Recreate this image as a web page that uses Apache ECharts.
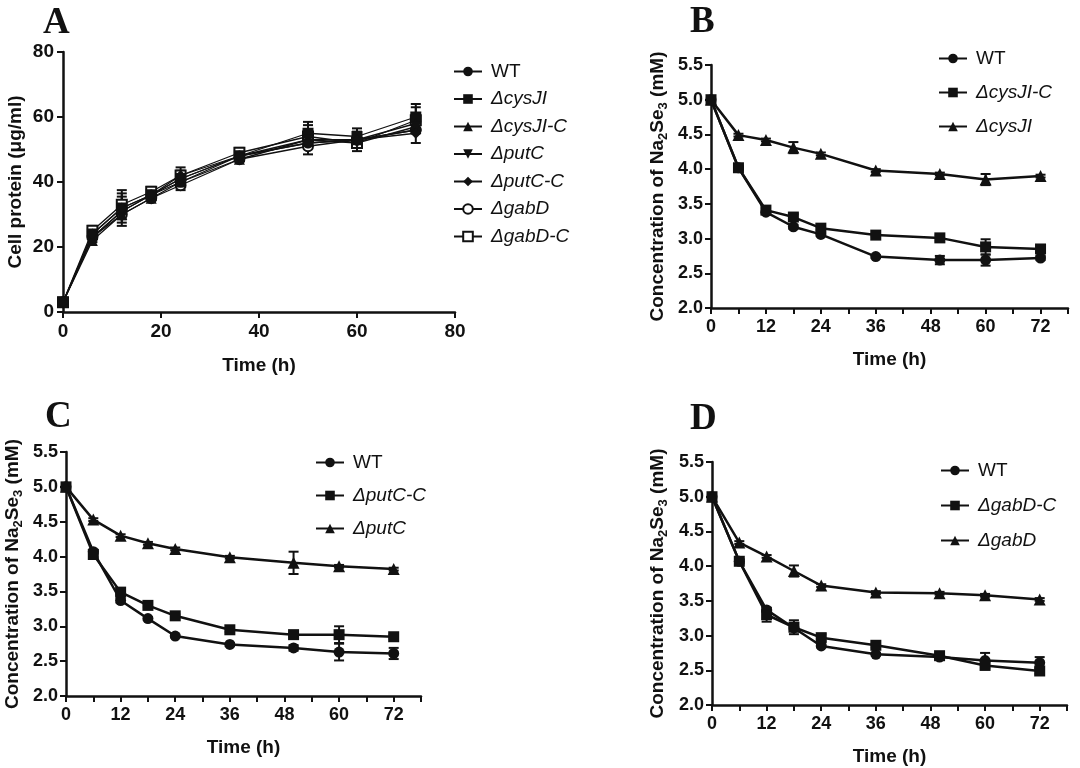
<!DOCTYPE html>
<html><head><meta charset="utf-8">
<script src="https://cdn.jsdelivr.net/npm/echarts@6/dist/echarts.min.js"></script>
<style>html,body{margin:0;padding:0;background:#fff}#c{width:1080px;height:768px}</style>
</head><body><div id="c"></div>
<script>
// ---- Data ----
const timesA = [0, 6, 12, 18, 24, 36, 50, 60, 72];
const times = [0, 6, 12, 18, 24, 36, 50, 60, 72];

// Panel A: cell protein (µg/ml)
const aWT      = [3, 23, 31, 36, 40, 48, 52, 53, 56];
const aCysJI   = [3, 24, 32, 36, 41, 48, 55, 54, 60];
const aCysJIC  = [3, 22, 30, 35, 40, 47, 53, 53, 58];
const aPutC    = [3, 23, 31, 36, 41, 48, 53, 52, 57];
const aPutCC   = [3, 24, 32, 36, 42, 48, 52, 53, 55];
const aGabD    = [3, 23, 30, 35, 39, 47, 51, 53, 56];
const aGabDC   = [3, 25, 33, 37, 42, 49, 54, 52, 59];
const aErr     = [0, 1.5, 4.5, 1.5, 2.5, 1.5, 3.5, 2.5, 4];

// Panel B: Na2SeO3 concentration (mM)
const bWT      = [5.0, 4.02, 3.38, 3.17, 3.06, 2.74, 2.69, 2.69, 2.72];
const bWTErr   = [0, 0.02, 0.02, 0.03, 0.02, 0.02, 0.06, 0.08, 0.03];
const bCysJIC  = [5.0, 4.02, 3.41, 3.31, 3.15, 3.05, 3.01, 2.88, 2.85];
const bCysJICErr = [0, 0.03, 0.03, 0.04, 0.03, 0.02, 0.04, 0.11, 0.04];
const bCysJI   = [5.0, 4.49, 4.42, 4.31, 4.22, 3.98, 3.93, 3.85, 3.90];
const bCysJIErr = [0, 0.02, 0.02, 0.08, 0.02, 0.02, 0.02, 0.08, 0.02];

// Panel C
const cWT      = [5.0, 4.07, 3.37, 3.11, 2.86, 2.74, 2.69, 2.63, 2.61];
const cWTErr   = [0, 0.03, 0.03, 0.02, 0.02, 0.02, 0.04, 0.12, 0.08];
const cPutCC   = [5.0, 4.03, 3.49, 3.30, 3.15, 2.95, 2.88, 2.88, 2.85];
const cPutCCErr = [0, 0.04, 0.04, 0.02, 0.02, 0.03, 0.03, 0.12, 0.03];
const cPutC    = [5.0, 4.53, 4.30, 4.19, 4.11, 3.99, 3.91, 3.86, 3.82];
const cPutCErr = [0, 0.02, 0.02, 0.02, 0.02, 0.02, 0.16, 0.02, 0.02];

// Panel D
const dWT      = [5.0, 4.07, 3.37, 3.11, 2.85, 2.73, 2.69, 2.64, 2.61];
const dWTErr   = [0, 0.03, 0.03, 0.03, 0.02, 0.02, 0.03, 0.11, 0.08];
const dGabDC   = [5.0, 4.07, 3.30, 3.12, 2.97, 2.86, 2.71, 2.57, 2.49];
const dGabDCErr = [0, 0.03, 0.10, 0.10, 0.05, 0.03, 0.04, 0.04, 0.04];
const dGabD    = [5.0, 4.34, 4.14, 3.93, 3.72, 3.62, 3.61, 3.58, 3.52];
const dGabDErr = [0, 0.02, 0.02, 0.08, 0.02, 0.02, 0.02, 0.02, 0.02];

const yTicksA = [0, 20, 40, 60, 80];
const xTicksA = [0, 20, 40, 60, 80];
const xTicksT = [0, 12, 24, 36, 48, 60, 72];

// ---- Styles ----
const INK = '#111';
const SANS = 'Liberation Sans, Arial, sans-serif';
const SERIF = 'Liberation Serif, Times New Roman, serif';

function pairs(xs, ys, es) { return xs.map((x, i) => es ? [x, ys[i], es[i]] : [x, ys[i]]); }

function errRender(params, api) {
  const x = api.value(0), y = api.value(1), e = api.value(2);
  if (!e) return null;
  const t = api.coord([x, y + e]), b = api.coord([x, y - e]);
  const w = 5;
  const st = { stroke: INK, lineWidth: 2 };
  return { type: 'group', children: [
    { type: 'line', shape: { x1: t[0], y1: t[1], x2: b[0], y2: b[1] }, style: st },
    { type: 'line', shape: { x1: t[0] - w, y1: t[1], x2: t[0] + w, y2: t[1] }, style: st },
    { type: 'line', shape: { x1: b[0] - w, y1: b[1], x2: b[0] + w, y2: b[1] }, style: st }
  ]};
}

function lineSeries(name, idx, xs, ys, symbol, opts) {
  opts = opts || {};
  return {
    type: 'line', name: name, xAxisIndex: idx, yAxisIndex: idx,
    data: pairs(xs, ys), symbol: symbol, symbolSize: opts.size || 11,
    symbolRotate: opts.rotate || 0, clip: false,
    lineStyle: { color: INK, width: opts.lw || 2.5 },
    itemStyle: { color: INK, borderColor: INK, borderWidth: opts.empty ? 2 : 0 },
    emphasis: { disabled: true }, animation: false, z: opts.z || 3
  };
}
function errSeries(idx, xs, ys, es) {
  return { type: 'custom', xAxisIndex: idx, yAxisIndex: idx, data: pairs(xs, ys, es),
    encode: { x: 0, y: 1 }, renderItem: errRender, animation: false, z: 2, silent: true };
}

const axisLine = { show: true, onZero: false, lineStyle: { color: INK, width: 2.5 } };
const axisTick = { show: true, length: 6, lineStyle: { color: INK, width: 2 } };
const titleStyle = { fontSize: 19, fontWeight: 'bold', fontFamily: SANS, color: INK };
const concName = '{n|Concentration of Na}{s|2}{n|Se}{s|3}{n| (mM)}';
const concStyle = { fontSize: 19, fontWeight: 'bold', fontFamily: SANS, color: INK,
  rich: {
    n: { fontSize: 19, fontWeight: 'bold', fontFamily: SANS, color: INK, lineHeight: 24, verticalAlign: 'bottom' },
    s: { fontSize: 13, fontWeight: 'bold', fontFamily: SANS, color: INK, lineHeight: 24, verticalAlign: 'bottom', padding: [0, 0, -3, 0] }
  } };

function timeXAxis(idx) {
  return { type: 'value', gridIndex: idx, min: 0, max: 78, interval: 6,
    axisLine: axisLine, axisTick: axisTick, splitLine: { show: false },
    axisLabel: { margin: 10, fontSize: 18, fontWeight: 'bold', fontFamily: SANS, color: INK,
      formatter: v => (xTicksT.indexOf(v) >= 0 ? String(v) : '') },
    name: 'Time (h)', nameLocation: 'middle', nameGap: 42, nameTextStyle: titleStyle };
}
function concYAxis(idx, gap) {
  return { type: 'value', gridIndex: idx, min: 2.0, max: 5.5, interval: 0.5,
    axisLine: axisLine, axisTick: axisTick, splitLine: { show: false },
    axisLabel: { margin: 8, fontSize: 18, fontWeight: 'bold', fontFamily: SANS, color: INK,
      formatter: v => v.toFixed(1) },
    name: concName, nameLocation: 'middle', nameGap: gap, nameTextStyle: concStyle };
}

function legend(names, left, top, gap, lineH) {
  return { data: names, orient: 'vertical', left: left, top: top, itemWidth: 28, itemHeight: 12,
    itemGap: gap, selectedMode: false,
    formatter: n => { const t = n.split('|')[1]; return t === 'WT' ? '{r|' + t + '}' : '{i|' + t + '}'; },
    textStyle: { fontSize: 19, fontFamily: SANS, color: INK, padding: [0, 0, 0, 4],
      rich: { r: { fontSize: 19, fontFamily: SANS, color: INK, lineHeight: lineH },
              i: { fontSize: 19, fontFamily: SANS, fontStyle: 'italic', color: INK, lineHeight: lineH } } } };
}

const aNames = ['A|WT', 'A|ΔcysJI', 'A|ΔcysJI-C', 'A|ΔputC', 'A|ΔputC-C', 'A|ΔgabD', 'A|ΔgabD-C'];
const bNames = ['B|WT', 'B|ΔcysJI-C', 'B|ΔcysJI'];
const cNames = ['C|WT', 'C|ΔputC-C', 'C|ΔputC'];
const dNames = ['D|WT', 'D|ΔgabD-C', 'D|ΔgabD'];

const series = [
  errSeries(0, timesA, aWT, aErr),
  errSeries(0, timesA, aCysJI, aErr),
  errSeries(0, timesA, aGabDC, aErr),
  lineSeries(aNames[5], 0, timesA, aGabD, 'emptyCircle', { lw: 1.3, size: 10, empty: true, z: 3 }),
  lineSeries(aNames[6], 0, timesA, aGabDC, 'emptyRect', { lw: 1.3, size: 10, empty: true, z: 3 }),
  lineSeries(aNames[0], 0, timesA, aWT, 'circle', { lw: 1.3, size: 11, z: 4 }),
  lineSeries(aNames[1], 0, timesA, aCysJI, 'rect', { lw: 1.3, size: 11, z: 4 }),
  lineSeries(aNames[2], 0, timesA, aCysJIC, 'triangle', { lw: 1.3, size: 11, z: 4 }),
  lineSeries(aNames[3], 0, timesA, aPutC, 'triangle', { lw: 1.3, size: 11, rotate: 180, z: 4 }),
  lineSeries(aNames[4], 0, timesA, aPutCC, 'diamond', { lw: 1.3, size: 11, z: 4 }),

  errSeries(1, times, bWT, bWTErr), errSeries(1, times, bCysJIC, bCysJICErr), errSeries(1, times, bCysJI, bCysJIErr),
  lineSeries(bNames[0], 1, times, bWT, 'circle'),
  lineSeries(bNames[1], 1, times, bCysJIC, 'rect'),
  lineSeries(bNames[2], 1, times, bCysJI, 'triangle', { size: 12 }),

  errSeries(2, times, cWT, cWTErr), errSeries(2, times, cPutCC, cPutCCErr), errSeries(2, times, cPutC, cPutCErr),
  lineSeries(cNames[0], 2, times, cWT, 'circle'),
  lineSeries(cNames[1], 2, times, cPutCC, 'rect'),
  lineSeries(cNames[2], 2, times, cPutC, 'triangle', { size: 12 }),

  errSeries(3, times, dWT, dWTErr), errSeries(3, times, dGabDC, dGabDCErr), errSeries(3, times, dGabD, dGabDErr),
  lineSeries(dNames[0], 3, times, dWT, 'circle'),
  lineSeries(dNames[1], 3, times, dGabDC, 'rect'),
  lineSeries(dNames[2], 3, times, dGabD, 'triangle', { size: 12 })
];

const option = {
  backgroundColor: '#fff',
  animation: false,
  grid: [
    { left: 63, top: 52, width: 392, height: 260 },
    { left: 711, top: 65, width: 357, height: 243 },
    { left: 66, top: 452, width: 355, height: 244 },
    { left: 712, top: 462, width: 355, height: 243 }
  ],
  xAxis: [
    { type: 'value', gridIndex: 0, min: 0, max: 80, interval: 20,
      axisLine: axisLine, axisTick: axisTick, splitLine: { show: false },
      axisLabel: { margin: 10, fontSize: 19, fontWeight: 'bold', fontFamily: SANS, color: INK,
        formatter: v => (xTicksA.indexOf(v) >= 0 ? String(v) : '') },
      name: 'Time (h)', nameLocation: 'middle', nameGap: 44, nameTextStyle: titleStyle },
    timeXAxis(1), timeXAxis(2), timeXAxis(3)
  ],
  yAxis: [
    { type: 'value', gridIndex: 0, min: 0, max: 80, interval: 20,
      axisLine: axisLine, axisTick: axisTick, splitLine: { show: false },
      axisLabel: { margin: 9, fontSize: 19, fontWeight: 'bold', fontFamily: SANS, color: INK,
        formatter: v => (yTicksA.indexOf(v) >= 0 ? String(v) : '') },
      name: 'Cell protein (μg/ml)', nameLocation: 'middle', nameGap: 38, nameTextStyle: titleStyle },
    concYAxis(1, 44), concYAxis(2, 44), concYAxis(3, 45)
  ],
  legend: [
    legend(aNames, 448, 57, 8.5, 20),
    legend(bNames, 933, 44, 15, 20),
    legend(cNames, 310, 448, 14, 20),
    legend(dNames, 935, 456, 16, 20)
  ],
  graphic: [
    { type: 'text', left: 43, top: 5, style: { text: 'A', font: 'bold 37px ' + SERIF, fill: INK } },
    { type: 'text', left: 690, top: 4, style: { text: 'B', font: 'bold 37px ' + SERIF, fill: INK } },
    { type: 'text', left: 45, top: 399, style: { text: 'C', font: 'bold 37px ' + SERIF, fill: INK } },
    { type: 'text', left: 690, top: 401, style: { text: 'D', font: 'bold 37px ' + SERIF, fill: INK } }
  ],
  series: series
};

const chart = echarts.init(document.getElementById('c'), null, { renderer: 'canvas' });
chart.setOption(option);
</script>
</body></html>
